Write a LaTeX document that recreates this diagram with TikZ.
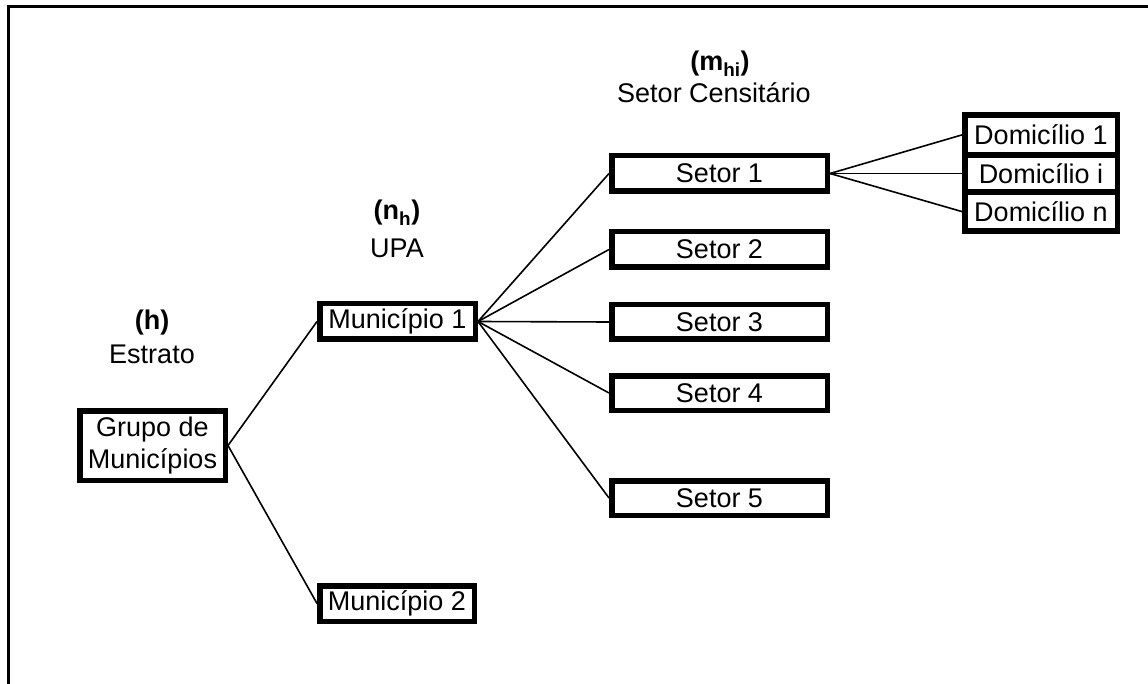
\documentclass[tikz,border=0pt]{standalone}
\usepackage{fontspec}
\setmainfont{Liberation Sans}
\begin{document}
\begin{tikzpicture}[x=1pt,y=-1pt,
  box/.style={draw, line width=5.5pt, inner sep=0pt, font=\fontsize{27}{32}\selectfont, align=center},
  lbl/.style={inner sep=0pt, anchor=base, font=\fontsize{27}{32}\selectfont},
  conn/.style={line width=1.6pt},
  frame/.style={line width=3pt}]
\useasboundingbox (0,0) rectangle (1148,684);
% frame (top and left only)
\coordinate (ftr) at (1148,6.5);
\coordinate (ftl) at (8.5,6.5);
\coordinate (fbl) at (8.5,684);
\draw[frame] (ftr) -- (ftl) -- (fbl);
% level labels
\node[lbl] (hlab) at (152,330) {\textbf{(h)}};
\node[lbl] (estr) at (152,363) {Estrato};
\node[lbl] (nlab) at (397,220) {\textbf{(n\textsubscript{h})}};
\node[lbl] (upa) at (397,258) {UPA};
\node[lbl] (mlab) at (720,71) {\textbf{(m\textsubscript{hi})}};
\node[lbl] (scen) at (714,103) {Setor Censitário};
% boxes
\node[box, minimum width=145.5pt, minimum height=69.5pt] (grupo) at (152.5,445.5) {Grupo de\\Municípios};
\node[box, minimum width=155.5pt, minimum height=35.5pt] (mun1) at (397.5,321.5) {Município 1};
\node[box, minimum width=154.5pt, minimum height=35.5pt] (mun2) at (397,603.5) {Município 2};
\node[box, minimum width=215.5pt, minimum height=35.5pt] (s1) at (719.5,173.5) {Setor 1};
\node[box, minimum width=215.5pt, minimum height=35.5pt] (s2) at (719.5,249.5) {Setor 2};
\node[box, minimum width=215.5pt, minimum height=34.5pt] (s3) at (719.5,322) {Setor 3};
\node[box, minimum width=215.5pt, minimum height=34.5pt] (s4) at (719.5,393) {Setor 4};
\node[box, minimum width=215.5pt, minimum height=34.5pt] (s5) at (719.5,498) {Setor 5};
\node[box, minimum width=152.5pt, minimum height=40.25pt] (d1) at (1041,134.9) {Domicílio 1};
\node[box, minimum width=152.5pt, minimum height=37pt] (di) at (1041,173.5) {Domicílio i};
\node[box, minimum width=152.5pt, minimum height=39.25pt] (dn) at (1041,211.6) {Domicílio n};
% connectors
\draw[conn] (grupo.east) -- (mun1.west);
\draw[conn] (grupo.east) -- (mun2.west);
\foreach \s in {s1,s2,s3,s4,s5} \draw[conn] (mun1.east) -- (\s.west);
\foreach \d in {d1,di,dn} \draw[conn] (s1.east) -- (\d.west);
\end{tikzpicture}
\end{document}
